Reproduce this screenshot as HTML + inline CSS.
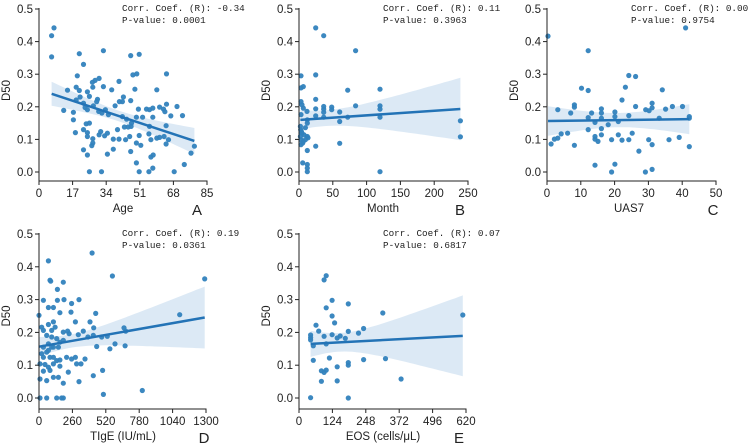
<!DOCTYPE html>
<html><head><meta charset="utf-8"><style>
html,body{margin:0;padding:0;background:#fff}
svg{display:block}
text{font-family:"Liberation Sans",sans-serif;fill:#222}
.tk{font-size:11.5px}
.ann{font-family:"Liberation Mono",monospace;font-size:9.3px}
</style></head><body>
<svg id="chart" width="752" height="443" xmlns="http://www.w3.org/2000/svg"></svg>
<script>
// Panel A: Age vs D50
const ageX=[6.4,7.6,6.4,20.4,22.5,32.6,19.4,14.4,18.8,20.4,24.5,27,28.4,30.4,27.2,32.6,29.6,36.8,40.5,46.4,50.7,47.5,49.5,48.5,59.6,64.5,12.5,17.4,17.4,18.8,20.8,22.5,23.3,24.5,25.5,27.5,29.2,30.2,31.8,33.6,35.1,38.5,40.7,42.7,42.2,46.4,42.2,44.3,46.8,49.3,50.3,52.4,54.4,55.9,57.6,57.6,61,63,64.5,63.7,66.7,69.8,72.6,18.4,22.5,23.9,25.5,24.5,24.5,27.2,30.4,31.2,33.2,34.6,37.6,39.7,40.5,43.2,45.1,46.6,43.8,45.9,49.3,50.7,51.5,55.9,55.6,56.6,59.6,61,63.3,64.3,64.3,65.5,22.5,24.5,26.7,27.2,34.6,37.6,46.4,49.3,56.6,57.8,57.6,25.5,31.6,50.7,55.6,68.4,73.5,76.9,78.6];
const ageY=[0.418,0.442,0.353,0.363,0.33,0.372,0.295,0.251,0.26,0.25,0.246,0.275,0.281,0.287,0.26,0.262,0.223,0.252,0.278,0.357,0.361,0.298,0.301,0.254,0.252,0.301,0.189,0.183,0.16,0.221,0.23,0.211,0.198,0.191,0.232,0.203,0.216,0.186,0.181,0.191,0.176,0.203,0.216,0.23,0.216,0.219,0.17,0.162,0.15,0.168,0.193,0.168,0.193,0.191,0.196,0.168,0.199,0.193,0.208,0.185,0.172,0.201,0.173,0.121,0.13,0.148,0.15,0.121,0.109,0.102,0.114,0.124,0.111,0.119,0.101,0.13,0.101,0.138,0.138,0.14,0.099,0.109,0.089,0.112,0.082,0.14,0.117,0.099,0.104,0.106,0.109,0.142,0.086,0.099,0.068,0.052,0.081,0.089,0.055,0.07,0.063,0.028,0.046,0.052,0.012,0.001,0.001,0.001,0.001,0.001,0.023,0.058,0.079];
// Panel B: Month vs D50
const monthX=[24.7,36.5,83.8,24.7,3,3,6.4,72,119.8,24.7,3,4.4,6.4,3,11.8,24.7,24.7,36.5,36.5,36.5,36.5,48.3,48.3,60.2,60.2,72,83.8,119.8,119.8,119.8,238.7,238.7,2.5,4.4,2,3,3,5.4,7.4,9.4,12.3,12.3,12.3,13.3,9.4,6.4,12.3,24.7,60.2,5.4,12.3,12.3,12.3,119.8,2,3.5];
const monthY=[0.442,0.418,0.372,0.298,0.295,0.258,0.262,0.251,0.254,0.223,0.216,0.206,0.196,0.176,0.186,0.194,0.172,0.201,0.193,0.183,0.168,0.199,0.191,0.184,0.155,0.168,0.203,0.203,0.193,0.168,0.157,0.108,0.13,0.119,0.109,0.099,0.084,0.089,0.114,0.136,0.15,0.16,0.109,0.105,0.099,0.094,0.066,0.079,0.088,0.028,0.023,0.012,0.001,0.001,0.14,0.124];
// Panel C: UAS7 vs D50
const uasX=[0.3,12.2,41,10.2,12.2,24.2,26.2,23.2,34.1,22.2,8.1,8.1,3.2,7,13.2,16.1,16.1,20.1,20.1,16.1,12.2,24.2,26.2,29.2,30.2,31.1,31.1,33.2,35.1,37.1,40.1,42.1,42.1,14.2,18.1,21.1,12.2,16.1,4.2,6.1,3.2,2.2,14.2,14.2,16.1,15.1,19.1,21.1,22.2,24.2,25.2,30.1,31.1,36.1,39.1,42.1,1.2,8.1,27.2,14.2,20.1,19.1,29.1,31.1];
const uasY=[0.417,0.372,0.442,0.257,0.25,0.296,0.293,0.26,0.252,0.221,0.206,0.199,0.191,0.181,0.181,0.194,0.181,0.184,0.17,0.165,0.167,0.173,0.201,0.191,0.188,0.211,0.197,0.165,0.193,0.201,0.201,0.17,0.165,0.152,0.145,0.155,0.13,0.133,0.117,0.119,0.104,0.101,0.109,0.101,0.114,0.094,0.099,0.114,0.098,0.099,0.119,0.099,0.084,0.099,0.106,0.078,0.086,0.082,0.064,0.021,0.024,0,0,0.008];
// Panel D: TIgE vs D50
const igeX=[8,0,34,73,86,91,143,189,413,571,1290,1095,441,249,195,311,254,143,112,163,73,283,397,345,426,223,189,234,423,306,532,488,381,662,675,592,552,449,670,34,73,112,21,99,125,60,99,138,163,189,73,99,73,112,151,34,21,60,86,112,34,8,47,73,112,138,163,215,254,283,293,327,358,228,163,8,60,34,86,112,151,189,311,423,495,501,804,60,138,176,189];
const igeY=[0,0.252,0.298,0.418,0.359,0.356,0.331,0.353,0.442,0.372,0.363,0.254,0.258,0.262,0.3,0.3,0.288,0.298,0.276,0.26,0.276,0.232,0.232,0.204,0.214,0.204,0.201,0.196,0.191,0.193,0.188,0.186,0.186,0.214,0.204,0.165,0.15,0.157,0.159,0.206,0.224,0.232,0.216,0.206,0.216,0.191,0.186,0.181,0.17,0.176,0.165,0.155,0.145,0.155,0.155,0.155,0.135,0.14,0.124,0.124,0.124,0.104,0.102,0.094,0.104,0.114,0.097,0.124,0.119,0.124,0.104,0.104,0.119,0.079,0.116,0.058,0.053,0.082,0.084,0.063,0.063,0.045,0.05,0.068,0.084,0.011,0.023,0,0,0,0];
// Panel E: EOS vs D50
const eosX=[93,101,123,101,183,311,608,123,132,63,73,43,43,43,93,123,142,153,172,183,221,240,53,101,53,113,321,240,83,93,101,142,183,183,83,142,379,43,183];
const eosY=[0.36,0.373,0.298,0.275,0.287,0.259,0.253,0.25,0.229,0.222,0.204,0.192,0.184,0.177,0.188,0.193,0.183,0.189,0.182,0.203,0.198,0.212,0.159,0.165,0.115,0.122,0.12,0.117,0.083,0.078,0.085,0.095,0.108,0.1,0.051,0.052,0.058,0.001,0];
const yTicks=[0,0.1,0.2,0.3,0.4,0.5];
const ageTicks=[0,17,34,51,68,85];
const monthTicks=[0,50,100,150,200,250];
const uasTicks=[0,10,20,30,40,50];
const igeTicks=[0,260,520,780,1040,1300];
const eosTicks=[0,124,248,372,496,620];
const annR=["-0.34","0.11","0.00","0.19","0.07"];
const annP=["0.0001","0.3963","0.9754","0.0361","0.6817"];

const NS="http://www.w3.org/2000/svg";
const svg=document.getElementById('chart');
function mk(tag,attrs,parent){const e=document.createElementNS(NS,tag);for(const k in attrs)e.setAttribute(k,attrs[k]);(parent||svg).appendChild(e);return e;}

const panels=[
 {id:'a',xs:ageX,ys:ageY,ticks:ageTicks,x0:39,x1:207,yt:9,yb:172,ax:181,xl:'Age',xlx:123,letter:'A',lx:197,ann:0,annx:122},
 {id:'b',xs:monthX,ys:monthY,ticks:monthTicks,x0:299,x1:468,yt:9,yb:172,ax:181,xl:'Month',xlx:383,letter:'B',lx:460,ann:1,annx:383},
 {id:'c',xs:uasX,ys:uasY,ticks:uasTicks,x0:547,x1:716,yt:9,yb:172,ax:181,xl:'UAS7',xlx:629,letter:'C',lx:713,ann:2,annx:631},
 {id:'d',xs:igeX,ys:igeY,ticks:igeTicks,x0:39,x1:206,yt:234,yb:398,ax:409,xl:'TIgE (IU/mL)',xlx:123,letter:'D',lx:204,ann:3,annx:122},
 {id:'e',xs:eosX,ys:eosY,ticks:eosTicks,x0:299,x1:466,yt:234,yb:398,ax:409,xl:'EOS (cells/μL)',xlx:383,letter:'E',lx:459,ann:4,annx:383}
];

panels.forEach(p=>{
 const g=mk('g',{});
 
 
 const tmin=p.ticks[0],tmax=p.ticks[p.ticks.length-1];
 const sx=v=>p.x0+(v-tmin)/(tmax-tmin)*(p.x1-p.x0);
 const sy=v=>p.yb-(v-yTicks[0])/(yTicks[yTicks.length-1]-yTicks[0])*(p.yb-p.yt);
 // regression
 const n=p.xs.length;let mx=0,my=0;for(let i=0;i<n;i++){mx+=p.xs[i];my+=p.ys[i];}mx/=n;my/=n;
 let sxx=0,sxy=0;for(let i=0;i<n;i++){sxx+=(p.xs[i]-mx)**2;sxy+=(p.xs[i]-mx)*(p.ys[i]-my);}
 const b=sxy/sxx,a=my-b*mx;let sse=0;for(let i=0;i<n;i++)sse+=(p.ys[i]-a-b*p.xs[i])**2;
 const s=Math.sqrt(sse/(n-2));
 const xmin=Math.min(...p.xs),xmax=Math.max(...p.xs);
 const up=[],lo=[];
 for(let k=0;k<=40;k++){const x=xmin+(xmax-xmin)*k/40;const se=s*Math.sqrt(1/n+(x-mx)**2/sxx);const yh=a+b*x;
  up.push(sx(x).toFixed(1)+','+sy(yh+1.97*se).toFixed(1));lo.unshift(sx(x).toFixed(1)+','+sy(yh-1.97*se).toFixed(1));}
 const band=mk('polygon',{points:up.concat(lo).join(' '),fill:'#2f7fc1','fill-opacity':'0.17',stroke:'none'},g);
 
 
 // points
 for(let i=0;i<n;i++){
  const c=mk('circle',{cx:sx(p.xs[i]).toFixed(1),cy:sy(p.ys[i]).toFixed(1),r:2.6,fill:'#3182bd','fill-opacity':'0.95'},g);
  
  
 }
 const ln=mk('line',{x1:sx(xmin),y1:sy(a+b*xmin),x2:sx(xmax),y2:sy(a+b*xmax),stroke:'#2373b6','stroke-width':2.5},g);
 
 
 // axes
 const ya=mk('line',{x1:p.x0,y1:p.yt-1,x2:p.x0,y2:p.ax,stroke:'#222','stroke-width':1},g);
 
 
 const xa=mk('line',{x1:p.x0,y1:p.ax,x2:p.x1+0.5,y2:p.ax,stroke:'#222','stroke-width':1},g);
 
 
 yTicks.forEach(t=>{
  mk('line',{x1:p.x0-4,y1:sy(t),x2:p.x0,y2:sy(t),stroke:'#222'},g);
  const tx=mk('text',{x:p.x0-6,y:sy(t)+4,'text-anchor':'end',class:'tk'},g);tx.textContent=t.toFixed(1);
  
  
 });
 p.ticks.forEach(t=>{
  mk('line',{x1:sx(t),y1:p.ax,x2:sx(t),y2:p.ax+4,stroke:'#222'},g);
  const tx=mk('text',{x:sx(t),y:p.ax+16,'text-anchor':'middle',class:'tk'},g);tx.textContent=t;
  
  
 });
 const yl=mk('text',{x:0,y:0,'text-anchor':'middle',transform:`translate(${p.x0-29},${(p.yt+p.yb)/2}) rotate(-90)`,style:'font-size:11.5px'},g);
 yl.textContent='D50';
 
 
 const xl=mk('text',{x:p.xlx,y:p.ax+31,'text-anchor':'middle',style:'font-size:11.5px'},g);
 xl.textContent=p.xl;
 
 
 const le=mk('text',{x:p.lx,y:p.ax+34,'text-anchor':'middle',style:'font-size:15px'},g);
 le.textContent=p.letter;
 
 
 const a1=mk('text',{x:p.annx,y:p.yt+2,class:'ann'},g);
 a1.textContent='Corr. Coef. (R): '+annR[p.ann];
 
 
 const a2=mk('text',{x:p.annx,y:p.yt+14,class:'ann'},g);
 a2.textContent='P-value: '+annP[p.ann];
 
 
});
</script>
</body></html>
